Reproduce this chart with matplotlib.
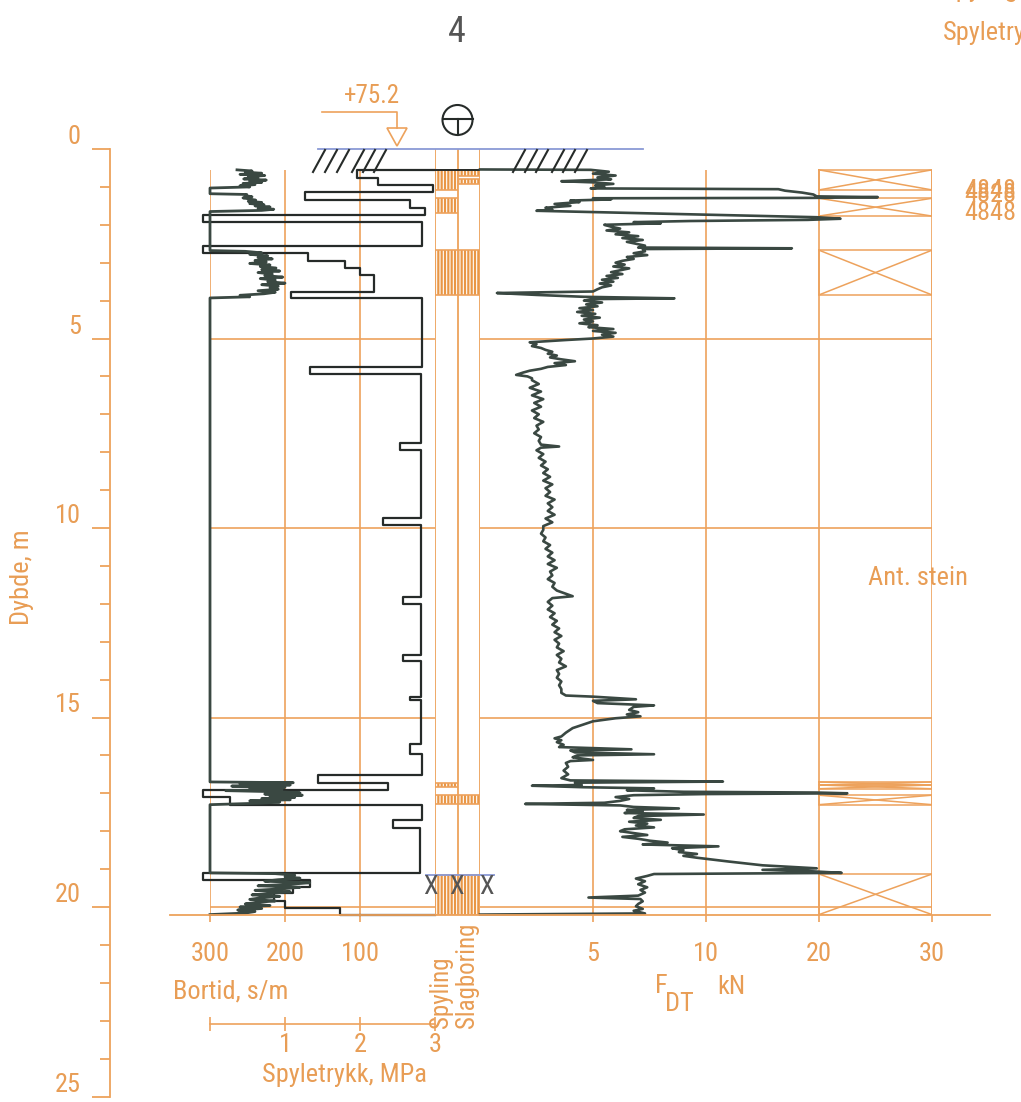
import numpy as np
import matplotlib
matplotlib.use('Agg')
import matplotlib.pyplot as plt
from matplotlib import font_manager
from matplotlib.patches import Circle, Polygon

ORANGE = '#eda25c'
HATCH = '#e99645'
TEXT = '#e89d55'
DARK = '#3a4842'
BLACK = '#262b29'
BLUE = '#8a9ad6'
GREY = '#555555'

# narrow lettering if the machine has a narrow face, plain DejaVu otherwise
fonts = font_manager.fontManager.ttflist
names = {f.name for f in fonts}
FONT, FS, STRETCH = 'DejaVu Sans', 15, 'normal'
for narrow in ('Liberation Sans Narrow', 'Roboto Condensed', 'Open Sans Condensed'):
    if narrow in names:
        FONT, FS = narrow, 19
        break
else:
    if any(f.name == 'DejaVu Sans' and f.stretch == 'condensed' for f in fonts):
        FS, STRETCH = 17, 'condensed'
plt.rcParams['font.family'] = FONT
plt.rcParams['font.stretch'] = STRETCH
plt.rcParams['hatch.linewidth'] = 1.6

W, H = 1021, 1102
TOP, PX_PER_M = 149, 37.9          # pixel row of 0 m and scale of the depth axis
END = 20.2                          # stop depth
Y_END = TOP + PX_PER_M * END

# ---- bortid (s/m), step values from each listed depth down to the next
bortid_top = [0.55, 0.76, 0.95, 1.13, 1.35, 1.56, 1.74, 1.92, 2.56, 2.74, 2.95, 3.14,
              3.32, 3.77, 3.93, 5.75, 5.94, 7.76, 7.94, 9.74, 9.92, 11.82, 12.0, 13.35,
              13.5, 14.45, 14.55, 15.7, 15.95, 16.52, 16.72, 16.91, 17.1, 17.3, 17.7,
              17.92, 19.1, 19.29, 19.47, 19.62, 19.85, 20.03]
bortid_sm = [104, 76, 3, 173, 33, 13, 310, 17, 310, 170, 120, 100,
             81, 192, 17, 167, 19, 47, 19, 70, 19, 43, 19, 43,
             19, 33, 19, 33, 18, 156, 63, 310, 273, 17, 56,
             20, 310, 167, 190, 215, 200, 127]

# ---- spyletrykk (MPa)
spy_depth = [0.55, 0.58, 0.61, 0.64, 0.67, 0.70, 0.73, 0.76, 0.79, 0.82, 0.85, 0.88, 0.91,
             0.94, 0.97, 1.00, 1.03, 1.18,
             1.20, 1.23, 1.26, 1.29, 1.32, 1.35, 1.38, 1.41, 1.44, 1.47, 1.50, 1.53, 1.56,
             1.59, 1.62, 1.65, 2.68,
             2.70, 2.74, 2.78, 2.82, 2.86, 2.90, 2.94, 2.98, 3.02, 3.06, 3.10, 3.14, 3.18,
             3.22, 3.26, 3.30, 3.34, 3.38, 3.42, 3.46, 3.50, 3.54, 3.58, 3.62, 3.66, 3.70,
             3.74, 3.78, 3.82, 3.86, 3.90, 3.93, 16.70,
             16.72, 16.75, 16.78, 16.81, 16.84, 16.87, 16.90, 16.93, 16.96, 16.99, 17.02,
             17.05, 17.08, 17.11, 17.14, 17.17, 17.20, 17.23, 17.26, 17.30, 19.10,
             19.12, 19.16, 19.20, 19.24, 19.28, 19.32, 19.36, 19.40, 19.44, 19.48, 19.52,
             19.56, 19.60, 19.64, 19.68, 19.72, 19.76, 19.80, 19.84, 19.88, 19.92, 19.96,
             20.00, 20.04, 20.08, 20.12, 20.16, 20.20]
spy_mpa = [0.36, 0.56, 0.47, 0.69, 0.40, 0.73, 0.51, 0.64, 0.45, 0.75, 0.53, 0.69, 0.44,
           0.60, 0.40, 0.53, 0.0, 0.0,
           0.49, 0.47, 0.56, 0.44, 0.53, 0.61, 0.51, 0.69, 0.53, 0.72, 0.60, 0.80, 0.64,
           0.85, 0.69, 0.0, 0.0,
           0.47, 0.69, 0.53, 0.77, 0.64, 0.83, 0.60, 0.75, 0.53, 0.80, 0.67, 0.88, 0.69,
           0.93, 0.64, 0.83, 0.73, 0.97, 0.67, 0.87, 0.77, 1.00, 0.69, 0.91, 0.80, 0.91,
           0.64, 0.87, 0.72, 0.40, 0.53, 0.0, 0.0,
           1.11, 0.40, 1.07, 0.29, 1.00, 0.53, 0.96, 0.21, 0.93, 1.20, 0.73,
           1.23, 0.80, 1.13, 0.69, 1.07, 0.53, 0.93, 0.67, 0.0, 0.0,
           0.87, 1.13, 1.00, 1.20, 0.91, 0.73, 1.33, 1.07, 0.64, 1.20, 0.96,
           0.60, 1.07, 0.80, 0.56, 0.93, 0.67, 0.53, 0.87, 0.61, 0.47, 0.80,
           0.40, 0.69, 0.37, 0.60, 0.47, 0.0]

# ---- F_DT (kN)
fdt_depth = [0.54, 0.55, 0.60, 0.65, 0.70, 0.75, 0.80, 0.85, 0.88, 0.92, 0.96, 1.00, 1.04,
             1.06, 1.10, 1.15, 1.20, 1.25, 1.27, 1.29, 1.30, 1.33, 1.36, 1.40, 1.45, 1.50,
             1.55, 1.60, 1.63, 1.80, 1.84, 1.87, 1.90, 1.93, 1.96, 2.00, 2.05, 2.10, 2.15,
             2.20, 2.25, 2.30, 2.35, 2.40, 2.45, 2.55, 2.60, 2.62, 2.64, 2.70, 2.75, 2.80,
             2.85, 2.90, 2.95, 3.00, 3.05, 3.10, 3.15, 3.20, 3.25, 3.30, 3.35, 3.40, 3.45,
             3.50, 3.55, 3.60, 3.65, 3.70, 3.76, 3.80, 3.85, 3.90, 3.94, 3.96, 4.00, 4.05,
             4.10, 4.15, 4.20, 4.25, 4.30, 4.35, 4.40, 4.45, 4.50, 4.55, 4.60, 4.65, 4.70,
             4.75, 4.80, 4.85, 4.90, 4.95, 5.00, 5.04, 5.10, 5.15, 5.20, 5.25, 5.30, 5.35,
             5.40, 5.45, 5.50, 5.55, 5.60, 5.65, 5.70, 5.75, 5.80, 5.85, 5.90, 5.96, 6.00,
             6.05, 6.10, 6.20, 6.30, 6.40, 6.50, 6.60, 6.70, 6.80, 6.90, 7.00, 7.10, 7.20,
             7.30, 7.40, 7.50, 7.60, 7.70, 7.80, 7.85, 7.88, 7.95, 8.05, 8.15, 8.25, 8.35,
             8.45, 8.55, 8.65, 8.75, 8.85, 8.95, 9.05, 9.15, 9.25, 9.35, 9.45, 9.55, 9.65,
             9.75, 9.85, 9.95, 10.05, 10.15, 10.25, 10.35, 10.45, 10.55, 10.65, 10.75,
             10.85, 10.95, 11.05, 11.15, 11.25, 11.35, 11.45, 11.55, 11.65, 11.80, 11.85,
             11.95, 12.05, 12.15, 12.25, 12.35, 12.45, 12.55, 12.65, 12.75, 12.85, 12.95,
             13.05, 13.15, 13.25, 13.35, 13.45, 13.55, 13.65, 13.75, 13.85, 13.95, 14.05,
             14.15, 14.25, 14.35, 14.42, 14.45, 14.52, 14.56, 14.62, 14.68, 14.72, 14.80,
             14.86, 14.92, 14.97, 15.02, 15.10, 15.20, 15.28, 15.40, 15.50, 15.55, 15.60,
             15.65, 15.72, 15.78, 15.84, 15.87, 15.92, 15.97, 16.00, 16.05, 16.12, 16.15,
             16.20, 16.30, 16.40, 16.50, 16.60, 16.66, 16.69, 16.72, 16.78, 16.80, 16.84,
             16.87, 16.92, 16.96, 16.98, 17.00, 17.02, 17.05, 17.10, 17.15, 17.20, 17.25,
             17.28, 17.32, 17.36, 17.40, 17.44, 17.48, 17.52, 17.56, 17.60, 17.65, 17.70,
             17.75, 17.80, 17.85, 17.90, 17.95, 18.00, 18.05, 18.10, 18.15, 18.20, 18.25,
             18.30, 18.35, 18.40, 18.45, 18.50, 18.55, 18.60, 18.65, 18.70, 18.80, 18.90,
             18.98, 19.02, 19.06, 19.10, 19.13, 19.18, 19.25, 19.32, 19.40, 19.48, 19.55,
             19.62, 19.70, 19.75, 19.79, 19.85, 19.92, 19.98, 20.05, 20.10, 20.17, 20.20]
fdt_kn = [0.0, 4.9, 5.7, 5.0, 6.0, 5.2, 5.8, 3.6, 5.0, 5.9, 5.1, 5.5, 4.9,
          16.4, 17.0, 18.5, 19.5, 19.8, 25.2, 19.5, 5.0, 5.8, 4.0, 4.4, 3.3, 4.0,
          2.9, 3.2, 2.5, 19.8, 21.9, 19.0, 9.3, 6.8, 8.0, 5.5, 5.8, 6.2, 5.6,
          6.6, 6.0, 7.0, 6.3, 7.2, 6.5, 7.3, 7.0, 17.6, 7.2, 7.3, 6.8, 7.4,
          6.5, 6.8, 6.3, 6.0, 6.4, 5.9, 6.6, 6.2, 5.8, 6.3, 5.6, 6.1, 5.4,
          5.9, 5.3, 5.8, 5.4, 5.2, 5.0, 0.75, 2.5, 4.6, 8.6, 5.0, 4.6, 5.4,
          4.7, 5.2, 4.4, 5.0, 4.3, 5.1, 4.5, 5.3, 4.6, 5.0, 4.4, 5.2, 4.8,
          5.9, 5.0, 6.0, 5.4, 5.9, 5.0, 3.8, 2.2, 2.5, 2.3, 2.7, 2.9, 3.2,
          3.0, 3.4, 3.1, 3.6, 4.2, 3.3, 3.8, 3.0, 2.7, 2.2, 1.9, 1.6, 2.1,
          2.3, 2.3, 2.6, 2.2, 2.7, 2.3, 2.8, 2.4, 2.7, 2.3, 2.6, 2.4, 2.8,
          2.5, 2.6, 2.4, 2.7, 2.6, 2.7, 3.5, 2.7, 2.5, 2.8, 2.6, 2.9, 2.7,
          3.0, 2.8, 3.1, 2.8, 3.2, 2.9, 3.1, 2.9, 3.3, 3.0, 3.2, 3.0, 3.3,
          2.9, 3.2, 2.8, 2.8, 2.7, 2.9, 2.8, 3.1, 2.9, 3.2, 3.0,
          3.3, 3.0, 3.4, 3.1, 3.2, 3.0, 3.3, 3.2, 3.4, 4.1, 3.2,
          3.0, 3.2, 3.0, 3.3, 3.1, 3.4, 3.2, 3.5, 3.3, 3.6, 3.3,
          3.5, 3.4, 3.7, 3.4, 3.6, 3.5, 3.8, 3.4, 3.5, 3.4, 3.6,
          3.5, 3.6, 3.6, 3.8, 5.0, 6.9, 5.0, 5.2, 7.7, 6.8, 6.6,
          7.0, 6.5, 7.1, 6.0, 5.0, 4.5, 4.1, 3.8, 3.6, 3.3, 3.6,
          3.4, 3.7, 3.5, 6.7, 4.0, 4.2, 7.7, 4.3, 4.1, 5.0, 4.0,
          3.8, 3.9, 3.7, 3.9, 3.6, 4.0, 11.5, 4.2, 4.5, 2.3, 4.6,
          7.7, 6.5, 9.0, 19.8, 22.5, 10.0, 6.8, 6.0, 6.6, 6.2, 5.5,
          2.0, 6.2, 6.8, 8.8, 6.5, 7.2, 6.4, 9.9, 7.0, 6.8, 8.0,
          6.6, 7.4, 6.9, 7.7, 6.4, 6.2, 6.8, 7.4, 6.3, 7.0, 7.5,
          8.3, 7.2, 11.1, 8.5, 9.0, 8.8, 9.6, 9.0, 9.6, 12.0, 15.0,
          19.8, 15.0, 19.5, 22.0, 7.7, 7.4, 6.9, 7.3, 7.0, 7.4, 7.1,
          7.3, 7.0, 4.8, 7.1, 7.2, 7.0, 6.9, 7.2, 6.8, 7.3, 0.0]

# ---- drilling mode bands and stone layers
spyling_bands = [(0.55, 1.08), (1.30, 1.70), (2.67, 3.85), (16.72, 16.83), (17.05, 17.28), (19.15, END)]
slag_bands = [(0.55, 0.72), (0.78, 0.92), (2.67, 3.85), (17.05, 17.28), (19.15, END)]
stone_layers = [(0.55, 1.08), (1.30, 1.77), (2.67, 3.85), (16.70, 16.78), (16.78, 16.88),
                (17.05, 17.30), (19.13, END)]
rock_depth = 19.15

depth_ticks = [0, 5, 10, 15, 20, 25]
bortid_ticks = [300, 200, 100]
spy_ticks = [0, 1, 2, 3]
fdt_ticks = [5, 10, 20, 30]
grid_depths = [5, 10, 15, 20]

fig = plt.figure(figsize=(W / 100, H / 100), dpi=100)


def px_axes(x0, y0, x1, y1):
    ax = fig.add_axes([x0 / W, 1 - y1 / H, (x1 - x0) / W, (y1 - y0) / H])
    ax.set_facecolor('none')
    return ax


def clean(ax):
    for s in ax.spines.values():
        s.set_visible(False)
    ax.set_yticks([])


# depth axis
ax_d = px_axes(110, TOP, 111, TOP + PX_PER_M * 25)
for side in ('top', 'right', 'bottom'):
    ax_d.spines[side].set_visible(False)
ax_d.spines['left'].set_color(ORANGE)
ax_d.spines['left'].set_linewidth(1.3)
ax_d.set_xticks([])
ax_d.set_ylim(25, 0)
ax_d.set_yticks(depth_ticks)
ax_d.set_yticks(range(26), minor=True)
ax_d.tick_params(axis='y', which='major', length=13, width=1.3, color=ORANGE,
                 labelcolor=TEXT, labelsize=FS, pad=8)
ax_d.tick_params(axis='y', which='minor', length=7, width=1.3, color=ORANGE)
for lbl in ax_d.get_yticklabels():
    lbl.set_verticalalignment('bottom')

# bortid / spyletrykk panel
ax_b = px_axes(210, TOP, 435, Y_END)
clean(ax_b)
ax_b.set_xlim(300, 0)
ax_b.set_ylim(END, 0)
ax_b.set_xticks(bortid_ticks)
ax_b.tick_params(axis='x', length=5, width=1.2, color=ORANGE, labelcolor=TEXT,
                 labelsize=FS, pad=15)
ax_b.vlines(bortid_ticks, 0.55, END, color=ORANGE, lw=1.2)
ax_b.hlines(grid_depths, 300, 0, color=ORANGE, lw=1.2)

ax_s = px_axes(210, TOP, 435, Y_END)
ax_s.axis('off')
ax_s.set_xlim(0, 3)
ax_s.set_ylim(END, 0)
ax_s.plot(spy_mpa, spy_depth, color=DARK, lw=2.0, clip_on=False, zorder=3)

bx, by = [0.0], [bortid_top[0]]
edges = bortid_top + [END]
for v, a, b in zip(bortid_sm, edges[:-1], edges[1:]):
    bx += [v, v]
    by += [a, b]
bx.append(0.0)
by.append(END)
ax_b.plot(bx, by, color=BLACK, lw=1.6, clip_on=False, zorder=4)

# spyletrykk scale below the panel
ax_sc = px_axes(210, 1023, 435, 1023.5)
for side in ('top', 'right', 'left'):
    ax_sc.spines[side].set_visible(False)
ax_sc.spines['bottom'].set_color(ORANGE)
ax_sc.spines['bottom'].set_linewidth(1.2)
ax_sc.set_yticks([])
ax_sc.set_xlim(0, 3)
ax_sc.set_xticks(spy_ticks)
ax_sc.set_xticklabels(['', '1', '2', '3'])
ax_sc.tick_params(axis='x', direction='inout', length=10, width=1.2, color=ORANGE,
                  labelcolor=TEXT, labelsize=FS, pad=2)

# drilling mode column
ax_m = px_axes(435, TOP, 480, Y_END)
ax_m.axis('off')
ax_m.set_xlim(0, 2)
ax_m.set_ylim(END, 0)
ax_m.vlines([0, 1, 2], 0, END, color=ORANGE, lw=1.3)
for a, b in spyling_bands:
    ax_m.fill_betweenx([a, b], 0, 1, facecolor='none', edgecolor=HATCH, hatch='|||||', lw=0)
    ax_m.hlines([a, b], 0, 1, color=ORANGE, lw=1.2)
for a, b in slag_bands:
    ax_m.fill_betweenx([a, b], 1, 2, facecolor='none', edgecolor=HATCH, hatch='|||||', lw=0)
    ax_m.hlines([a, b], 1, 2, color=ORANGE, lw=1.2)
ax_m.hlines(0.55, 0, 2, color=BLACK, lw=1.4)
ax_m.hlines(rock_depth, -0.45, 2.65, color=BLUE, lw=1.3, clip_on=False)
for xm in (-0.2, 0.95, 2.3):
    ax_m.text(xm, rock_depth + 0.33, 'X', ha='center', va='center', color=GREY,
              fontsize=FS)

# F_DT panel: linear to 10 kN, half scale from 10 to 30 kN
def f_fwd(x):
    x = np.asarray(x, float)
    return np.where(x <= 10, x, 10 + (x - 10) / 2)


def f_inv(y):
    y = np.asarray(y, float)
    return np.where(y <= 10, y, 10 + (y - 10) * 2)


ax_f = px_axes(480, TOP, 932, Y_END)
clean(ax_f)
ax_f.set_xscale('function', functions=(f_fwd, f_inv))
ax_f.set_xlim(0, 30)
ax_f.set_ylim(END, 0)
ax_f.set_xticks(fdt_ticks)
ax_f.set_xticklabels([str(t) for t in fdt_ticks])
ax_f.xaxis.set_minor_locator(plt.NullLocator())
ax_f.tick_params(axis='x', length=5, width=1.2, color=ORANGE, labelcolor=TEXT,
                 labelsize=FS, pad=15)
ax_f.vlines(fdt_ticks, 0.55, END, color=ORANGE, lw=1.2)
ax_f.hlines(grid_depths, 0, 30, color=ORANGE, lw=1.2)
for a, b in stone_layers:
    ax_f.plot([20, 30, 30, 20, 20], [a, a, b, b, a], color=ORANGE, lw=1.1)
    ax_f.plot([20, 30], [a, b], color=ORANGE, lw=1.1)
    ax_f.plot([20, 30], [b, a], color=ORANGE, lw=1.1)
ax_f.plot(fdt_kn, fdt_depth, color=DARK, lw=1.9, clip_on=False, zorder=4)

# overlay in pixel units for symbols and free text
ax_p = px_axes(0, 0, W, H)
ax_p.axis('off')
ax_p.set_xlim(0, W)
ax_p.set_ylim(H, 0)

ax_p.plot([170, 990], [Y_END, Y_END], color=ORANGE, lw=1.3)
ax_p.plot([318, 643], [TOP, TOP], color=BLUE, lw=1.3)
for x in (313, 325, 337, 352, 363, 374, 513, 525, 536, 552, 563, 575):
    ax_p.plot([x, x + 12], [172, 150], color=BLACK, lw=1.5)

# surface level marker
ax_p.plot([322, 397, 397], [112, 112, 128], color=ORANGE, lw=1.2)
ax_p.add_patch(Polygon([[387, 128], [407, 128], [397, 146]], closed=True,
                       fill=False, edgecolor=ORANGE, lw=1.2))
ax_p.text(372, 96, '+75.2', ha='center', va='center', color=TEXT, fontsize=FS - 1)

# sounding method symbol
ax_p.add_patch(Circle((457.5, 120), 15, fill=False, edgecolor=BLACK, lw=1.5))
ax_p.plot([442.5, 472.5], [119, 119], color=BLACK, lw=1.5)
ax_p.plot([457.5, 457.5], [119, 135], color=BLACK, lw=1.5)

ax_p.text(457, 32, '4', ha='center', va='center', color=GREY, fontsize=26)
ax_p.text(943, 40, 'Spyletrykk', ha='left', va='baseline', color=TEXT, fontsize=FS)
ax_p.text(943, -3, 'Spyling', ha='left', va='baseline', color=TEXT, fontsize=FS)

ax_p.text(22, 577, 'Dybde, m', rotation=90, ha='center', va='center', color=TEXT, fontsize=FS)
ax_p.text(173, 991, 'Bortid, s/m', ha='left', va='center', color=TEXT, fontsize=FS)
ax_p.text(344, 1075, 'Spyletrykk, MPa', ha='center', va='center', color=TEXT, fontsize=FS)
ax_p.text(441, 1028, 'Spyling', rotation=90, ha='center', va='bottom', color=TEXT,
          fontsize=FS - 1)
ax_p.text(467, 1028, 'Slagboring', rotation=90, ha='center', va='bottom', color=TEXT,
          fontsize=FS - 1)
ax_p.text(661, 986, 'F', ha='center', va='center', color=TEXT, fontsize=FS)
ax_p.text(679, 1004, 'DT', ha='center', va='center', color=TEXT, fontsize=FS)
ax_p.text(731, 987, 'kN', ha='center', va='center', color=TEXT, fontsize=FS)
ax_p.text(918, 578, 'Ant. stein', ha='center', va='center', color=TEXT, fontsize=FS)
ax_p.text(990, 191, '4848', ha='center', va='center', color=TEXT, fontsize=FS)
ax_p.text(990, 195, '4828', ha='center', va='center', color=TEXT, fontsize=FS)
ax_p.text(990, 213, '4848', ha='center', va='center', color=TEXT, fontsize=FS)

fig.savefig('out.png', dpi=100)
